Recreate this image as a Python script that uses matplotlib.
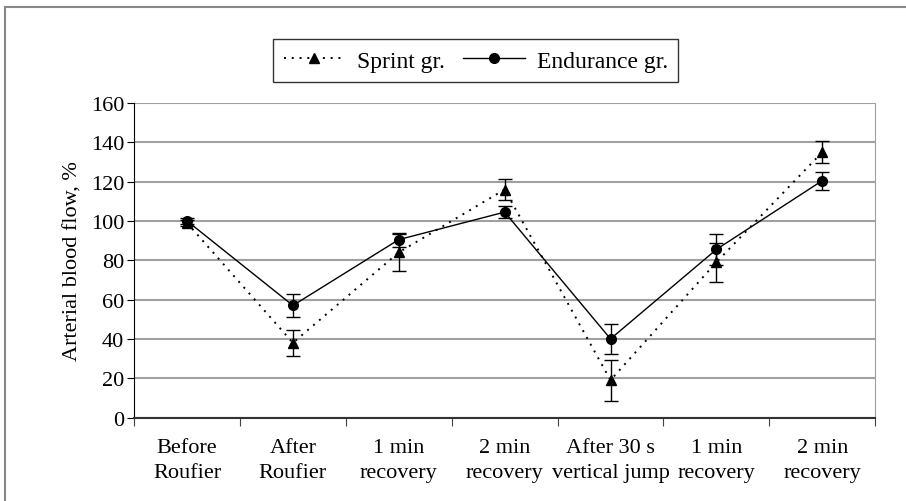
import numpy as np
import matplotlib
matplotlib.use('Agg')
import matplotlib.pyplot as plt
from matplotlib.lines import Line2D
from matplotlib.font_manager import FontProperties

SERIF = 'Liberation Serif'
plt.rcParams['font.family'] = [SERIF, 'DejaVu Serif']

categories = ['Before\nRoufier', 'After\nRoufier', '1 min\nrecovery', '2 min\nrecovery',
              'After 30 s\nvertical jump', '1 min\nrecovery', '2 min\nrecovery']
sprint = [99, 38, 84, 116, 19, 79, 135]
sprint_err = [1.5, 6.5, 9.5, 5.5, 10.5, 10, 5.5]
endurance = [100, 57, 90.5, 104.5, 40, 85.5, 120.5]
endurance_err = [1.5, 6, 3.5, 3, 7.5, 8, 4.5]
y_ticks = [0, 20, 40, 60, 80, 100, 120, 140, 160]

fig = plt.figure(figsize=(9.06, 5.02), dpi=100)
ax = fig.add_axes([0.148, 0.1663, 0.818, 0.6265])

x = np.arange(len(categories))

ax.errorbar(x, sprint, yerr=sprint_err, color='black', linestyle=(0, (1, 3)), lw=1.4,
            marker='^', markersize=7, capsize=5, elinewidth=1, capthick=1,
            label='Sprint gr.', zorder=3)
ax.errorbar(x, endurance, yerr=endurance_err, color='black', linestyle='-', lw=1,
            marker='o', markersize=7, capsize=5, elinewidth=1, capthick=1,
            label='Endurance gr.', zorder=3)

ax.set_xlim(-0.5, len(categories) - 0.5)
ax.set_ylim(0, 160)
ax.set_yticks(y_ticks)
ax.set_yticklabels([str(t) for t in y_ticks], fontsize=16, family=SERIF)
ax.set_xticks(np.arange(-0.5, len(categories), 1))
ax.set_xticklabels([])
ax.set_xticks(x, minor=True)
ax.set_xticklabels(categories, minor=True, fontsize=16, family=SERIF, linespacing=1.4)
ax.tick_params(axis='x', which='minor', length=0, pad=15)
ax.tick_params(axis='x', which='major', length=6, direction='out', color='#444444')
ax.tick_params(axis='y', length=5, direction='out', pad=2)

ax.yaxis.grid(True, color='#a0a0a0', lw=1.5)
ax.set_axisbelow(True)
ax.spines['left'].set_color('black')
ax.spines['bottom'].set_color('#333333')
ax.spines['bottom'].set_linewidth(1.5)
ax.spines['right'].set_color('#a0a0a0')
ax.spines['top'].set_visible(False)

ax.set_ylabel('Arterial blood flow, %', fontsize=16, family=SERIF, labelpad=6)

handles = [Line2D([], [], color='black', linestyle=(0, (1, 3)), lw=1.4, marker='^', markersize=7),
           Line2D([], [], color='black', linestyle='-', lw=1, marker='o', markersize=7)]
leg = fig.legend(handles, ['Sprint gr.', 'Endurance gr.'], loc='center',
                 bbox_to_anchor=(0.525, 0.877), ncol=2, frameon=True,
                 prop=FontProperties(family=SERIF, size=17),
                 fancybox=False, edgecolor='black', handlelength=2.6, handletextpad=0.5,
                 columnspacing=0.8, borderpad=0.45)
leg.get_frame().set_linewidth(1)

# outer frame (top and left edges visible)
fig.add_artist(Line2D([0.005, 1.0], [0.984, 0.984], color='#888888', lw=1.5, transform=fig.transFigure))
fig.add_artist(Line2D([0.005, 0.005], [0.0, 0.984], color='#888888', lw=1.5, transform=fig.transFigure))

fig.savefig('out.png', dpi=100)
